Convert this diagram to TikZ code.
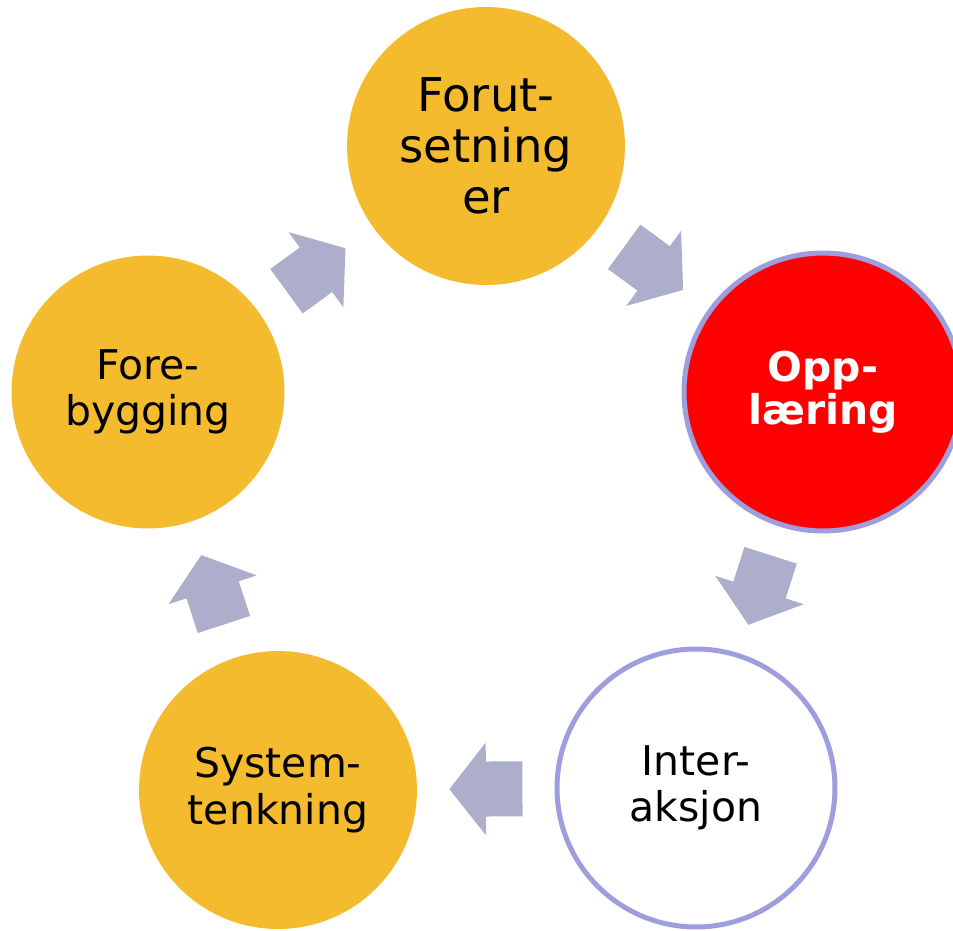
\documentclass[tikz,border=0pt]{standalone}
\usepackage{fontspec}
\setmainfont{DejaVu Sans}
\usetikzlibrary{positioning}

\definecolor{phasegold}{RGB}{244,187,46}
\definecolor{ringblue}{RGB}{158,158,222}
\definecolor{arrowgray}{RGB}{173,173,204}

\tikzset{
    phase/.style={circle, minimum size=5.56cm, inner sep=0pt, align=center, fill=phasegold},
    ringed/.style={draw=ringblue, line width=0.1cm},
    bigtext/.style={font=\fontsize{26.5}{29}\selectfont},
    smalltext/.style={font=\fontsize{23.3}{26.5}\selectfont},
    cyclearrow/.pic={
        \fill [arrowgray] (-36.5,-27.5) -- (0,-27.5) -- (0,-46.5) -- (36.5,0)
            -- (0,46.5) -- (0,27.5) -- (-36.5,27.5) -- cycle;
    }
}

\begin{document}
\begin{tikzpicture}[x=0.02cm, y=-0.02cm]
    \useasboundingbox (0,0) rectangle (953,930);

    % Phases of the cycle
    \node [phase, bigtext] (forut) at (486,146) {Forut-\\setning\\er};
    \node [phase, ringed, fill=red, text=white, font=\bfseries\fontsize{23.3}{24.5}\selectfont] (oppl) at (823,392) {Opp-\\læring};
    \node [phase, ringed, fill=white, smalltext] (inter) at (696,788) {Inter-\\aksjon};
    \node [phase, smalltext] (system) at (278,790) {System-\\tenkning};
    \node [phase, smalltext, minimum size=5.46cm] (fore) at (148,392) {Fore-\\bygging};

    % Arrows between phases
    \foreach \a/\b in {forut/oppl, oppl/inter, inter/system, system/fore, fore/forut} {
        \path (\a) -- pic [sloped, allow upside down, pos=0.5] {cyclearrow} (\b);
    }
\end{tikzpicture}
\end{document}
